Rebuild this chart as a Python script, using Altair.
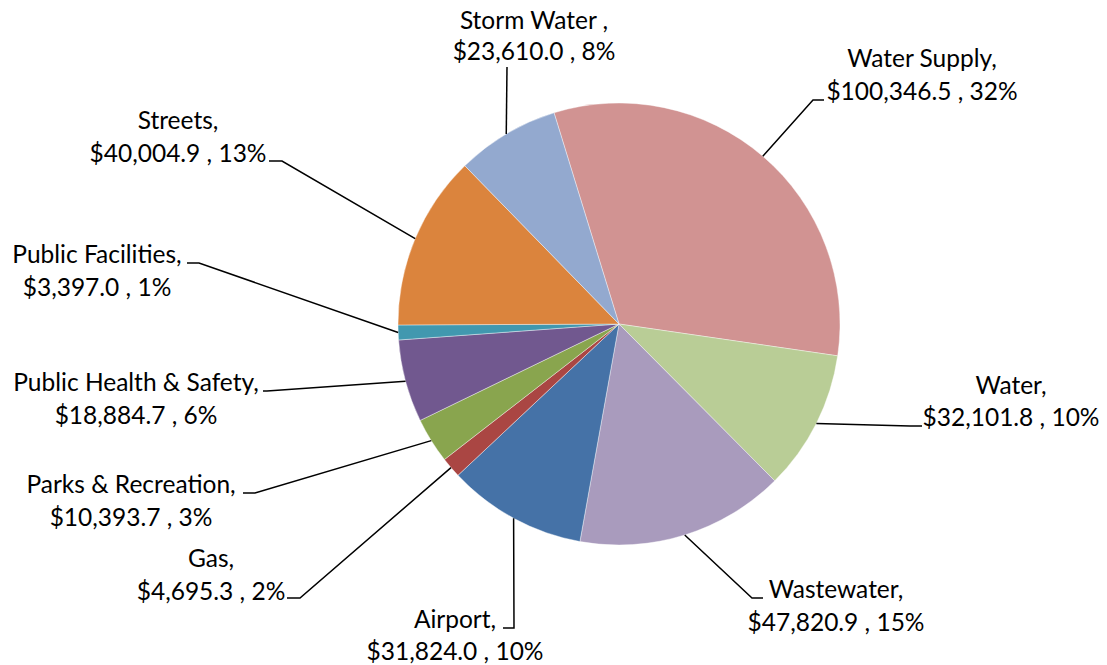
import math
import altair as alt
import pandas as pd

# ---- data ----
categories = ["Water Supply", "Water", "Wastewater", "Airport", "Gas",
              "Parks & Recreation", "Public Health & Safety", "Public Facilities",
              "Streets", "Storm Water"]
values = [100346.5, 32101.8, 47820.9, 31824.0, 4695.3,
          10393.7, 18884.7, 3397.0, 40004.9, 23610.0]
percents = [32, 10, 15, 10, 2, 3, 6, 1, 13, 8]
name_lines = ["Water Supply,", "Water,", "Wastewater,", "Airport,", "Gas,",
              "Parks & Recreation,", "Public Health & Safety,", "Public Facilities,",
              "Streets,", "Storm Water ,"]
colors = ["#D19392", "#B9CD96", "#A99BBD", "#4572A7", "#AA4643",
          "#89A54E", "#71588F", "#4198AF", "#DB843D", "#93A9CF"]

# ---- layout (page pixels) ----
W, H = 1091, 657
OFF = 8
CX, CY, R = 619, 324, 221
START = math.radians(-17.1)
label_cx = [922, 1011, 836, 455, 211, 131, 136, 97, 178, 534]
label_base1 = [67, 394, 598, 628, 567, 493, 391, 263, 129, 29]
label_base2 = [100, 426, 631, 660, 600, 526, 424, 296, 162, 60]
elbow = [(813, 100), (910, 426), (752, 598), (514, 628), (300, 598),
         (255, 493), (267, 391), (199, 263), (282, 161), (507, 67)]
tail = [(824, 100), (922, 426), (763, 598), (503, 628), (287, 598),
        (243, 493), (263, 391), (187, 263), (269, 161), (507, 67)]

total = sum(values)
pie_df = pd.DataFrame({"cat": categories, "value": values, "idx": list(range(len(values)))})

# leader lines: from slice edge at mid-angle to elbow to tail
rows = []
cum = 0.0
for i, v in enumerate(values):
    mid = START + (cum + v / 2) / total * 2 * math.pi
    cum += v
    ex = CX + R * math.sin(mid)
    ey = CY - R * math.cos(mid)
    pts = [(ex, ey), elbow[i], tail[i]]
    for k, (px, py) in enumerate(pts):
        rows.append({"cat": categories[i], "pt": k, "x": px, "y": py})
line_df = pd.DataFrame(rows)

trows = []
for i, v in enumerate(values):
    trows.append({"x": label_cx[i], "y": label_base1[i], "text": name_lines[i]})
    trows.append({"x": label_cx[i], "y": label_base2[i],
                  "text": f"${v:,.1f} , {percents[i]}%"})
text_df = pd.DataFrame(trows)

xs = alt.Scale(domain=[OFF, OFF + W], nice=False, zero=False)
ys = alt.Scale(domain=[OFF, OFF + H], nice=False, zero=False, reverse=True)

pie = alt.Chart(pie_df).mark_arc(outerRadius=R, stroke="#ffffff", strokeWidth=0.4).encode(
    theta=alt.Theta("value:Q", stack=True,
                    scale=alt.Scale(range=[2 * math.pi + START, 4 * math.pi + START])),
    color=alt.Color("cat:N", scale=alt.Scale(domain=categories, range=colors), legend=None),
    order=alt.Order("idx:Q"),
    x=alt.value(CX - OFF),
    y=alt.value(CY - OFF),
)

lines = alt.Chart(line_df).mark_line(color="black", strokeWidth=1.5).encode(
    x=alt.X("x:Q", scale=xs, axis=None),
    y=alt.Y("y:Q", scale=ys, axis=None),
    detail="cat:N",
    order="pt:Q",
)

texts = alt.Chart(text_df).mark_text(
    align="center", baseline="alphabetic", font="Lato", fontSize=24.5, color="black"
).encode(
    x=alt.X("x:Q", scale=xs, axis=None),
    y=alt.Y("y:Q", scale=ys, axis=None),
    text="text:N",
)

chart = alt.layer(pie, lines, texts).properties(
    width=W, height=H, padding=0, autosize=alt.AutoSizeParams(type="none"),
    background="white",
).configure_view(stroke=None)

chart.save("out.html", embed_options={"renderer": "svg", "actions": False})
